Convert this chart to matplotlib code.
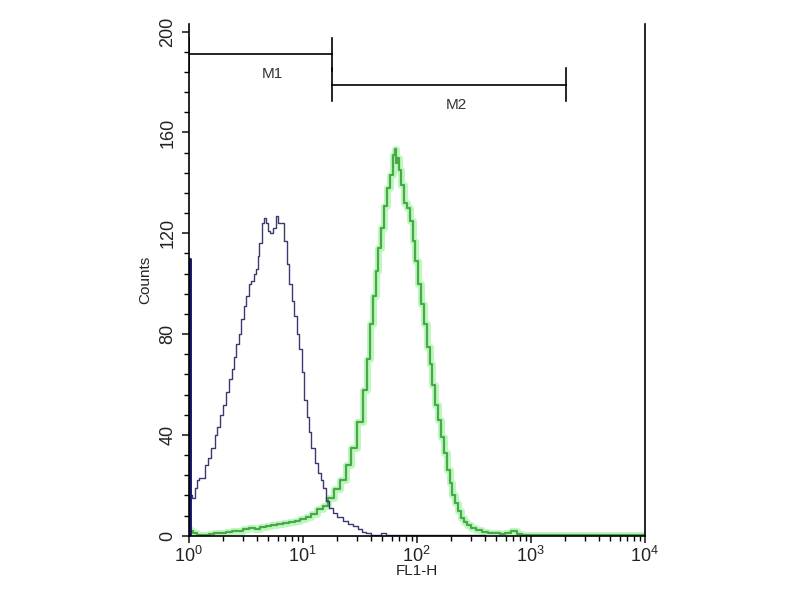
import numpy as np
import matplotlib
matplotlib.use("Agg")
import matplotlib.pyplot as plt
from matplotlib.ticker import LogLocator, MultipleLocator, NullFormatter

plt.rcParams["font.family"] = ["Liberation Sans", "DejaVu Sans"]
plt.rcParams["mathtext.fontset"] = "custom"
plt.rcParams["mathtext.rm"] = "Liberation Sans"
plt.rcParams["mathtext.it"] = "Liberation Sans"

# blue (control) histogram, FL1-H vs counts
blue_x = [1.00, 1.05, 1.10, 1.15, 1.21, 1.27, 1.34, 1.43, 1.52, 1.64, 1.76, 1.81,
          1.95, 2.07, 2.20, 2.30, 2.45, 2.54, 2.70, 2.81, 2.98, 3.11, 3.30, 3.44,
          3.60, 3.81, 3.95, 4.08, 4.25, 4.52, 4.70, 4.83, 5.05, 5.36, 5.60, 5.93,
          6.27, 6.56, 7.02, 7.40, 7.76, 8.16, 8.59, 9.05, 9.51, 10.0, 10.5, 11.1,
          11.6, 12.2, 13.3, 14.0, 14.8, 15.5, 16.3, 17.6, 19.3, 21.0, 23.7, 26.5,
          29.0, 32.0, 34.4, 38.0, 41.7, 46.0, 52.0, 56.0, 70.0, 100.0, 150.0, 250.0, 400.0]
blue_y = [110, 16, 15, 19, 22, 23, 23, 28, 31, 35, 40, 43,
          48, 52, 57, 62, 66, 71, 76, 80, 86, 91, 95, 100,
          101, 104, 106, 111, 116, 124, 126, 124, 121, 120, 122, 127,
          124, 124, 117, 108, 100, 93, 87, 80, 74, 65, 54, 47,
          41, 35, 29, 25, 22, 19, 14, 11, 9, 7.5, 5.7, 4.6,
          3.7, 2.6, 1.7, 1.0, 0.4, 0.5, 1.2, 0.3, 0.2, 0.3, 0.2, 0.3, 0.2]

# green (stained) histogram
green_x = [1.00, 1.05, 1.12, 1.25, 1.40, 1.58, 1.78, 2.0, 2.24, 2.5, 2.8, 3.2,
           3.6, 4.0, 4.5, 5.0, 5.6, 6.3, 7.1, 8.0, 9.0, 10.0, 11.2, 12.6,
           14.1, 15.8, 17.8, 19.9, 22.4, 25.1, 28.2, 31.6, 35.5, 37.5, 39.8, 42.2,
           44.7, 47.3, 50.1, 53.1, 56.2, 59.6, 63.1, 65.3, 66.8, 68.5, 70.8, 75.0,
           79.4, 84.1, 89.1, 94.4, 100.0, 106.0, 112.2, 119.0, 125.9, 133.0, 141.3, 150.0,
           158.5, 168.0, 177.8, 188.0, 199.5, 211.0, 223.9, 237.0, 251.2, 265.0, 282.0, 316.0,
           343.0, 398.0, 447.0, 501.0, 562.0, 631.0, 708.0, 794.0, 891.0, 1000.0, 2000.0,
           5000.0, 10000.0]
green_y = [2.5, 1.8, 1.0, 0.5, 0.4, 0.8, 1.2, 1.0, 1.5, 1.8, 2.0, 2.6,
           3.0, 2.8, 3.5, 4.0, 4.2, 4.8, 5.0, 5.6, 6.0, 6.5, 7.5, 8.5,
           10.5, 12.0, 15.0, 18.5, 22.0, 28.0, 35.0, 45.0, 58.0, 70.0, 84.0, 95.0,
           105.0, 114.0, 122.0, 131.0, 138.0, 143.0, 151.0, 153.5, 148.0, 150.0, 145.0, 139.0,
           132.0, 130.0, 125.0, 117.0, 109.0, 100.0, 92.0, 84.0, 75.0, 68.0, 60.0, 52.0,
           46.0, 39.0, 33.0, 26.0, 21.0, 16.0, 13.0, 10.0, 7.0, 5.5, 4.4, 3.0,
           2.4, 1.5, 1.2, 1.0, 0.8, 1.2, 2.0, 0.6, 0.3, 0.2, 0.3,
           0.2, 0.2]

# markers: name, start, end, level, label position
markers = ["M1", "M2"]
marker_start = [1.0, 18.2]
marker_end = [18.2, 2050.0]
marker_level = [191, 179]
marker_label_x = [5.4, 224]
marker_label_y = [183, 171]

fig = plt.figure(figsize=(8, 6), dpi=100)
ax = fig.add_axes([0.236, 0.107, 0.570, 0.853])

# green curve with light glow
ax.plot(green_x, green_y, drawstyle="steps-mid", color="#6cf06c", lw=5, alpha=0.45)
ax.plot(green_x, green_y, drawstyle="steps-mid", color="#4aa84a", lw=1.6)

# blue curve, first channel piled at the axis
ax.plot(blue_x, blue_y, drawstyle="steps-mid", color="#3a3a72", lw=1.0)
ax.vlines(blue_x[0], 0, blue_y[0], color="#141466", lw=3.5)

# gate markers
for name, s, e, lev, lx, ly in zip(markers, marker_start, marker_end, marker_level,
                                   marker_label_x, marker_label_y):
    ax.plot([s, e], [lev, lev], color="black", lw=1.2)
    ax.plot([s, s], [lev - 6.5, lev + 6.5], color="black", lw=1.2)
    ax.plot([e, e], [lev - 6.5, lev + 6.5], color="black", lw=1.2)
    ax.text(lx, ly, name, ha="center", va="center", fontsize=11, color="#333333")

ax.set_xscale("log")
ax.set_xlim(1, 10000)
ax.set_ylim(0, 203)

ax.xaxis.set_major_locator(LogLocator(base=10, numticks=10))
ax.xaxis.set_minor_locator(LogLocator(base=10, subs=np.arange(2, 10), numticks=10))
ax.xaxis.set_minor_formatter(NullFormatter())
ax.yaxis.set_major_locator(MultipleLocator(40))
ax.yaxis.set_minor_locator(MultipleLocator(8))

ax.tick_params(axis="both", which="major", direction="out", length=5, width=1.2,
               labelsize=13, colors="#222222")
ax.tick_params(axis="both", which="minor", direction="out", length=3.5, width=1.0)
ax.tick_params(axis="y", which="major", pad=4)
ax.tick_params(axis="x", which="major", pad=2)
for lab in ax.get_yticklabels():
    lab.set_rotation(90)
    lab.set_va("center")

ax.spines["top"].set_visible(False)
for side in ["left", "right", "bottom"]:
    ax.spines[side].set_linewidth(1.2)
    ax.spines[side].set_color("black")

ax.set_xlabel("FL1-H", fontsize=11, labelpad=-1, color="#222222")
ax.set_ylabel("Counts", fontsize=11, labelpad=5, color="#222222")

fig.savefig("out.png", dpi=100)
